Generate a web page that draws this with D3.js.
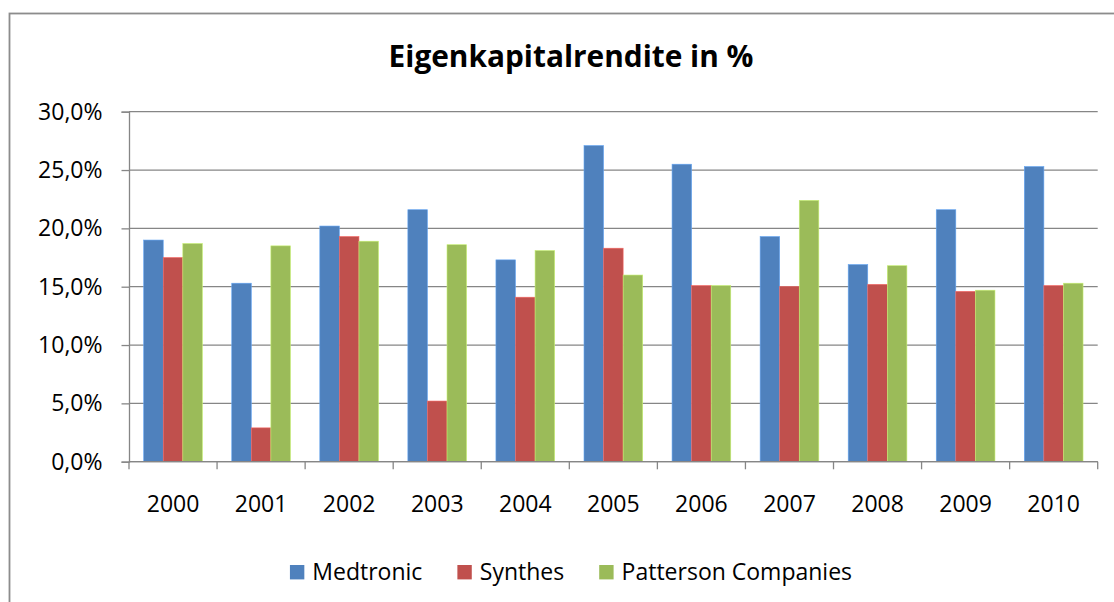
<!DOCTYPE html>
<html>
<head>
<meta charset="utf-8">
<script src="https://cdn.jsdelivr.net/npm/d3@7/dist/d3.min.js"></script>
<style>
  html, body { margin: 0; padding: 0; background: #fff; }
  svg { display: block; }
  text { font-family: "Open Sans", "Noto Sans", sans-serif; fill: #000; }
</style>
</head>
<body>
<svg id="chart" width="1114" height="602"></svg>
<script>
// ---- data ----
const title = "Eigenkapitalrendite in %";
const years = ["2000","2001","2002","2003","2004","2005","2006","2007","2008","2009","2010"];
const seriesNames = ["Medtronic", "Synthes", "Patterson Companies"];
const medtronic = [19.0, 15.3, 20.2, 21.6, 17.3, 27.1, 25.5, 19.3, 16.9, 21.6, 25.3];
const synthes   = [17.5,  2.9, 19.3,  5.2, 14.1, 18.3, 15.1, 15.0, 15.2, 14.6, 15.1];
const patterson = [18.7, 18.5, 18.9, 18.6, 18.1, 16.0, 15.1, 22.4, 16.8, 14.7, 15.3];
const yTicks = [0, 5, 10, 15, 20, 25, 30];
const colors = ["#4F81BD", "#C0504D", "#9BBB59"];

const seriesValues = [medtronic, synthes, patterson];

// ---- layout ----
const svg = d3.select("#chart");
const W = 1114, H = 602;
const plot = { left: 129, right: 1097.7, top: 111.7, bottom: 461.7 };
const centerX = 571;
const gridColor = "#868686";

// chart border
svg.append("rect")
  .attr("x", 9.5).attr("y", 13.5)
  .attr("width", 1135).attr("height", 620)
  .attr("fill", "#fff")
  .attr("stroke", "#8c8c8c").attr("stroke-width", 1.8);

// title
const titleText = svg.append("text")
  .attr("x", centerX).attr("y", 67)
  .attr("text-anchor", "middle")
  .attr("font-weight", "bold")
  .attr("font-size", 30)
  .text(title);
{
  const w = titleText.node().getComputedTextLength();
  titleText.attr("font-size", 30 * 365 / w);
}

// scales
const x = d3.scaleBand().domain(years).range([plot.left, plot.right]).paddingInner(0).paddingOuter(0);
const xs = d3.scaleBand().domain(seriesNames).range([0, x.bandwidth()]).paddingInner(0).paddingOuter(0.75);
const y = d3.scaleLinear().domain([0, 30]).range([plot.bottom, plot.top]);

const locale = d3.formatLocale({ decimal: ",", thousands: ".", grouping: [3], currency: ["", "€"] });
const fmt = v => locale.format(".1f")(v) + "%";

// gridlines
svg.append("g").selectAll("line").data(yTicks).join("line")
  .attr("x1", plot.left).attr("x2", plot.right)
  .attr("y1", d => y(d)).attr("y2", d => y(d))
  .attr("stroke", gridColor).attr("stroke-width", 1.3);

// y axis
const yAxis = svg.append("g")
  .attr("transform", `translate(${plot.left},0)`)
  .call(d3.axisLeft(y).tickValues(yTicks).tickFormat(fmt).tickSize(7.5).tickPadding(19));
yAxis.select(".domain").attr("stroke", gridColor).attr("stroke-width", 1.3);
yAxis.selectAll(".tick line").attr("stroke", gridColor).attr("stroke-width", 1.3);
yAxis.selectAll(".tick text")
  .attr("font-size", 23)
  .attr("font-family", "'Open Sans', sans-serif")
  .attr("fill", "#000");

// bars
const barG = svg.append("g");
seriesNames.forEach((name, si) => {
  barG.append("g").selectAll("rect")
    .data(years.map((yr, i) => ({ yr, v: seriesValues[si][i] })))
    .join("rect")
    .attr("x", d => x(d.yr) + xs(name))
    .attr("width", xs.bandwidth())
    .attr("y", d => y(d.v))
    .attr("height", d => y(0) - y(d.v))
    .attr("fill", colors[si])
    .attr("stroke", d3.color(colors[si]).brighter(0.7))
    .attr("stroke-width", 0.6);
});

// x axis
const xAxis = svg.append("g")
  .attr("transform", `translate(0,${plot.bottom})`)
  .call(d3.axisBottom(x).tickSize(0).tickPadding(0));
xAxis.select(".domain").remove();
xAxis.selectAll(".tick text")
  .attr("y", 50).attr("dy", 0)
  .attr("font-size", 23)
  .attr("font-family", "'Open Sans', sans-serif")
  .attr("fill", "#000");
svg.append("line")
  .attr("x1", plot.left).attr("x2", plot.right)
  .attr("y1", plot.bottom).attr("y2", plot.bottom)
  .attr("stroke", gridColor).attr("stroke-width", 1.3);
const boundaries = years.map(yr => x(yr)).concat([x(years[years.length - 1]) + x.bandwidth()]);
svg.append("g").selectAll("line").data(boundaries).join("line")
  .attr("x1", d => d).attr("x2", d => d)
  .attr("y1", plot.bottom).attr("y2", plot.bottom + 7.6)
  .attr("stroke", gridColor).attr("stroke-width", 1.3);

// legend
const sq = 14.4, gapText = 8, gapItem = 35;
const legend = svg.append("g");
const items = seriesNames.map((name, i) => {
  const g = legend.append("g");
  g.append("rect").attr("width", sq).attr("height", sq).attr("y", 565).attr("fill", colors[i]);
  const t = g.append("text").attr("x", sq + gapText).attr("y", 580)
    .attr("font-size", 23).text(name);
  return { g, w: sq + gapText + t.node().getComputedTextLength() };
});
const total = d3.sum(items, d => d.w) + gapItem * (items.length - 1);
let cx = centerX - total / 2;
items.forEach(it => {
  it.g.attr("transform", `translate(${cx},0)`);
  cx += it.w + gapItem;
});
</script>
</body>
</html>
